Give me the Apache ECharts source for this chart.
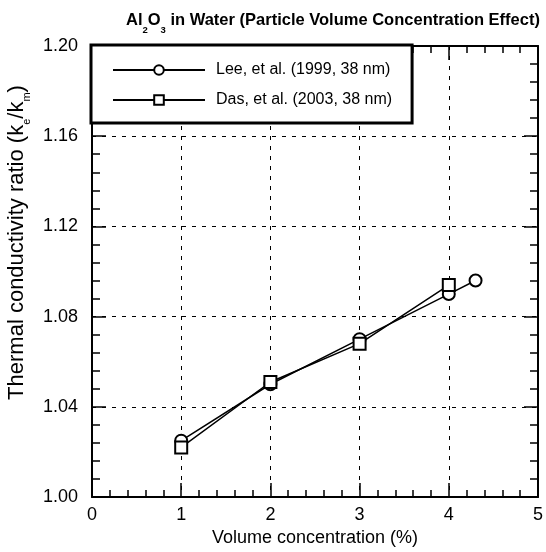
<!DOCTYPE html>
<html><head><meta charset="utf-8">
<script src="https://cdn.jsdelivr.net/npm/echarts@6/dist/echarts.min.js"></script>
<style>html,body{margin:0;padding:0;background:#fff}#c{width:546px;height:552px}</style>
</head><body><div id="c"></div>
<script>
// ---- data ----
const seriesNames = ['Lee, et al. (1999, 38 nm)', 'Das, et al. (2003, 38 nm)'];
const leeX = [1, 2, 3, 4, 4.3];
const leeY = [1.025, 1.050, 1.070, 1.090, 1.096];
const dasX = [1, 2, 3, 4];
const dasY = [1.022, 1.051, 1.068, 1.094];
const xTickLabels = ['0', '1', '2', '3', '4', '5'];
const yTickLabels = ['1.00', '1.04', '1.08', '1.12', '1.16', '1.20'];

const FONT = '"Liberation Sans", Arial, Helvetica, sans-serif';

function xAx(pos, main) {
  return {
    type: 'value', position: pos, min: 0, max: 5, interval: 1,
    axisLine: { show: true, onZero: false, lineStyle: { color: '#000', width: 2 } },
    axisTick: { show: true, inside: true, length: 14, lineStyle: { color: '#000', width: 1.5 } },
    minorTick: { show: true, splitNumber: 5, length: 7, lineStyle: { color: '#000', width: 1.5 } },
    splitLine: { show: main, lineStyle: { color: '#000', type: [4, 6], width: 1 } },
    axisLabel: { show: main, color: '#000', fontSize: 18, fontFamily: FONT, margin: 9,
      formatter: (v) => xTickLabels[Math.round(v)] },
    name: main ? 'Volume concentration (%)' : '',
    nameLocation: 'middle', nameGap: 30,
    nameTextStyle: { color: '#000', fontSize: 18, fontFamily: FONT }
  };
}
function yAx(pos, main) {
  return {
    type: 'value', position: pos, min: 1.0, max: 1.2, interval: 0.04,
    axisLine: { show: true, onZero: false, lineStyle: { color: '#000', width: 2 } },
    axisTick: { show: true, inside: true, length: 14, lineStyle: { color: '#000', width: 1.5 } },
    minorTick: { show: true, splitNumber: 5, length: 8, lineStyle: { color: '#000', width: 1.5 } },
    splitLine: { show: main, lineStyle: { color: '#000', type: [4, 6], width: 1 } },
    axisLabel: { show: main, color: '#000', fontSize: 18, fontFamily: FONT, margin: 14,
      formatter: (v) => yTickLabels[Math.round((v - 1.0) / 0.04)] },
    name: main ? '{n|Thermal conductivity ratio (k}{s|e}{n|/k}{s|m}{n|)}' : '',
    nameLocation: 'middle', nameGap: 46,
    nameTextStyle: { color: '#000', padding: [0, 0, 0, 58],
      rich: {
        n: { fontSize: 22, fontFamily: FONT, color: '#000', lineHeight: 30 },
        s: { fontSize: 11, fontFamily: FONT, color: '#000', lineHeight: 30, verticalAlign: 'bottom' }
      } }
  };
}

const chart = echarts.init(document.getElementById('c'), null, { renderer: 'canvas' });
chart.setOption({
  animation: false,
  backgroundColor: '#fff',
  title: {
    text: '{b|Al}{s|2}{b|O}{s|3}{b| in Water (Particle Volume Concentration Effect)}',
    left: 121, top: 0,
    textStyle: {
      rich: {
        b: { fontSize: 16.5, fontWeight: 'bold', fontFamily: FONT, color: '#000', lineHeight: 30 },
        s: { fontSize: 9.5, fontWeight: 'bold', fontFamily: FONT, color: '#000', lineHeight: 30, verticalAlign: 'bottom' }
      }
    }
  },
  grid: { left: 92, right: 8, top: 46, bottom: 55, containLabel: false, outerBoundsMode: 'none' },
  legend: {
    data: seriesNames, orient: 'vertical', left: 91, top: 45,
    itemWidth: 92, itemHeight: 12, itemGap: 14,
    padding: [17, 20, 15, 21],
    borderColor: '#000', borderWidth: 3, backgroundColor: '#fff',
    textStyle: { fontSize: 16, fontFamily: FONT, color: '#000', padding: [0, 0, 0, 6] }
  },
  xAxis: [xAx('bottom', true), xAx('top', false)],
  yAxis: [yAx('left', true), yAx('right', false)],
  series: [
    { name: seriesNames[0], type: 'line', data: leeX.map((x, i) => [x, leeY[i]]),
      symbol: 'emptyCircle', symbolSize: 12,
      lineStyle: { color: '#000', width: 1.5 }, itemStyle: { color: '#000', borderWidth: 1.2 } },
    { name: seriesNames[1], type: 'line', data: dasX.map((x, i) => [x, dasY[i]]),
      symbol: 'emptyRect', symbolSize: 12,
      lineStyle: { color: '#000', width: 1.5 }, itemStyle: { color: '#000', borderWidth: 1.2 } }
  ]
});
</script>
</body></html>
